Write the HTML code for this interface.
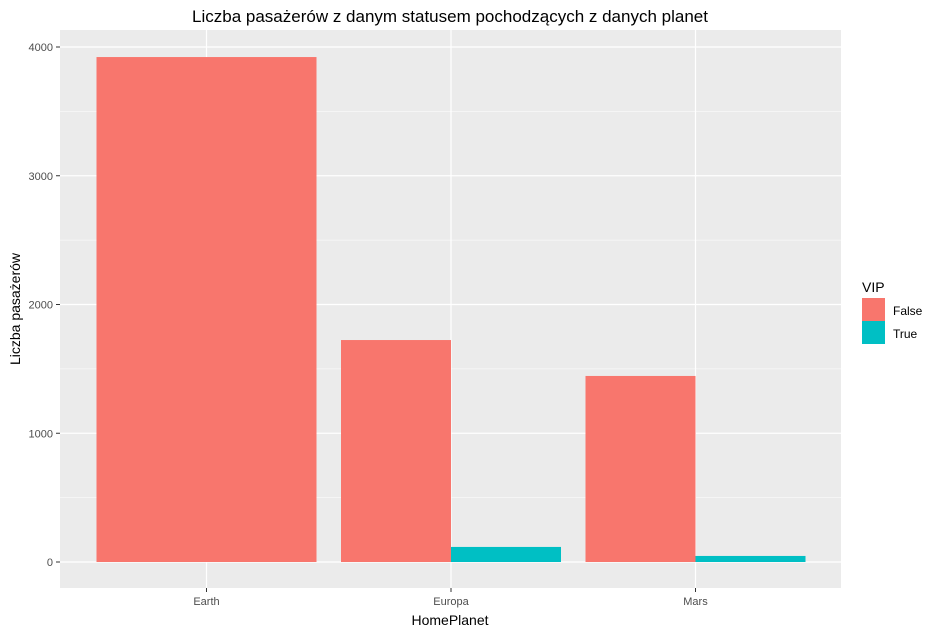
<!DOCTYPE html>
<html><head><meta charset="utf-8"><style>
body{margin:0;background:#fff;}
svg text{font-family:"Liberation Sans",sans-serif;}
</style></head><body>
<svg id="c" width="938" height="633" xmlns="http://www.w3.org/2000/svg">
<text x="450" y="22" text-anchor="middle" font-size="17" fill="#000">Liczba pasażerów z danym statusem pochodzących z danych planet</text>
<rect x="60" y="30" width="781" height="558" fill="#ebebeb"/>
<g id="grid"></g><g id="bars"></g><g id="axes"></g>
<text x="450" y="625" text-anchor="middle" font-size="14" fill="#000">HomePlanet</text>
<text transform="translate(20,309) rotate(-90)" text-anchor="middle" font-size="14" fill="#000">Liczba pasażerów</text>
<g>
<text x="862" y="292" font-size="14" fill="#000">VIP</text>
<rect x="862" y="298" width="23" height="23" fill="#f8766d"/>
<text x="893" y="315" font-size="12" fill="#000">False</text>
<rect x="862" y="321" width="23" height="23" fill="#00bfc4"/>
<text x="893" y="338" font-size="12" fill="#000">True</text>
</g>
</svg>
<script>
const categories=["Earth","Europa","Mars"];
const falseValues=[3922,1724,1445];
const trueValues=[null,117,47];
const yTicks=[0,1000,2000,3000,4000];
const NS="http://www.w3.org/2000/svg";
const y=v=>562-v*0.12875;
const x=i=>206.5+i*244.5;
const half=110;
function mk(t,a,p){const e=document.createElementNS(NS,t);for(const k in a)e.setAttribute(k,a[k]);p.appendChild(e);return e;}
const g=document.getElementById('grid'),b=document.getElementById('bars'),ax=document.getElementById('axes');
for(let i=0;i<yTicks.length-1;i++){const m=(yTicks[i]+yTicks[i+1])/2;const l=mk('line',{x1:60,x2:841,y1:y(m),y2:y(m),stroke:'#fff','stroke-width':0.6},g);

}
yTicks.forEach(v=>{const l=mk('line',{x1:60,x2:841,y1:y(v),y2:y(v),stroke:'#fff','stroke-width':1.2},g);


const t=mk('line',{x1:56,x2:60,y1:y(v),y2:y(v),stroke:'#333'},ax);


const tx=mk('text',{x:53,y:y(v)+4,'text-anchor':'end','font-size':11,fill:'#4d4d4d'},ax);tx.textContent=v;

});
categories.forEach((c,i)=>{const l=mk('line',{x1:x(i),x2:x(i),y1:30,y2:588,stroke:'#fff','stroke-width':1.2},g);


const t=mk('line',{x1:x(i),x2:x(i),y1:588,y2:592,stroke:'#333'},ax);


const tx=mk('text',{x:x(i),y:605,'text-anchor':'middle','font-size':11,fill:'#4d4d4d'},ax);tx.textContent=c;


const hasT=trueValues[i]!=null;
const fx=hasT?x(i)-half:x(i)-half, fw=hasT?half:2*half;
const r=mk('rect',{x:fx,y:y(falseValues[i]),width:fw,height:y(0)-y(falseValues[i]),fill:'#f8766d'},b);


if(hasT){const r2=mk('rect',{x:x(i),y:y(trueValues[i]),width:half,height:y(0)-y(trueValues[i]),fill:'#00bfc4'},b);

}
});
</script>
</body></html>
